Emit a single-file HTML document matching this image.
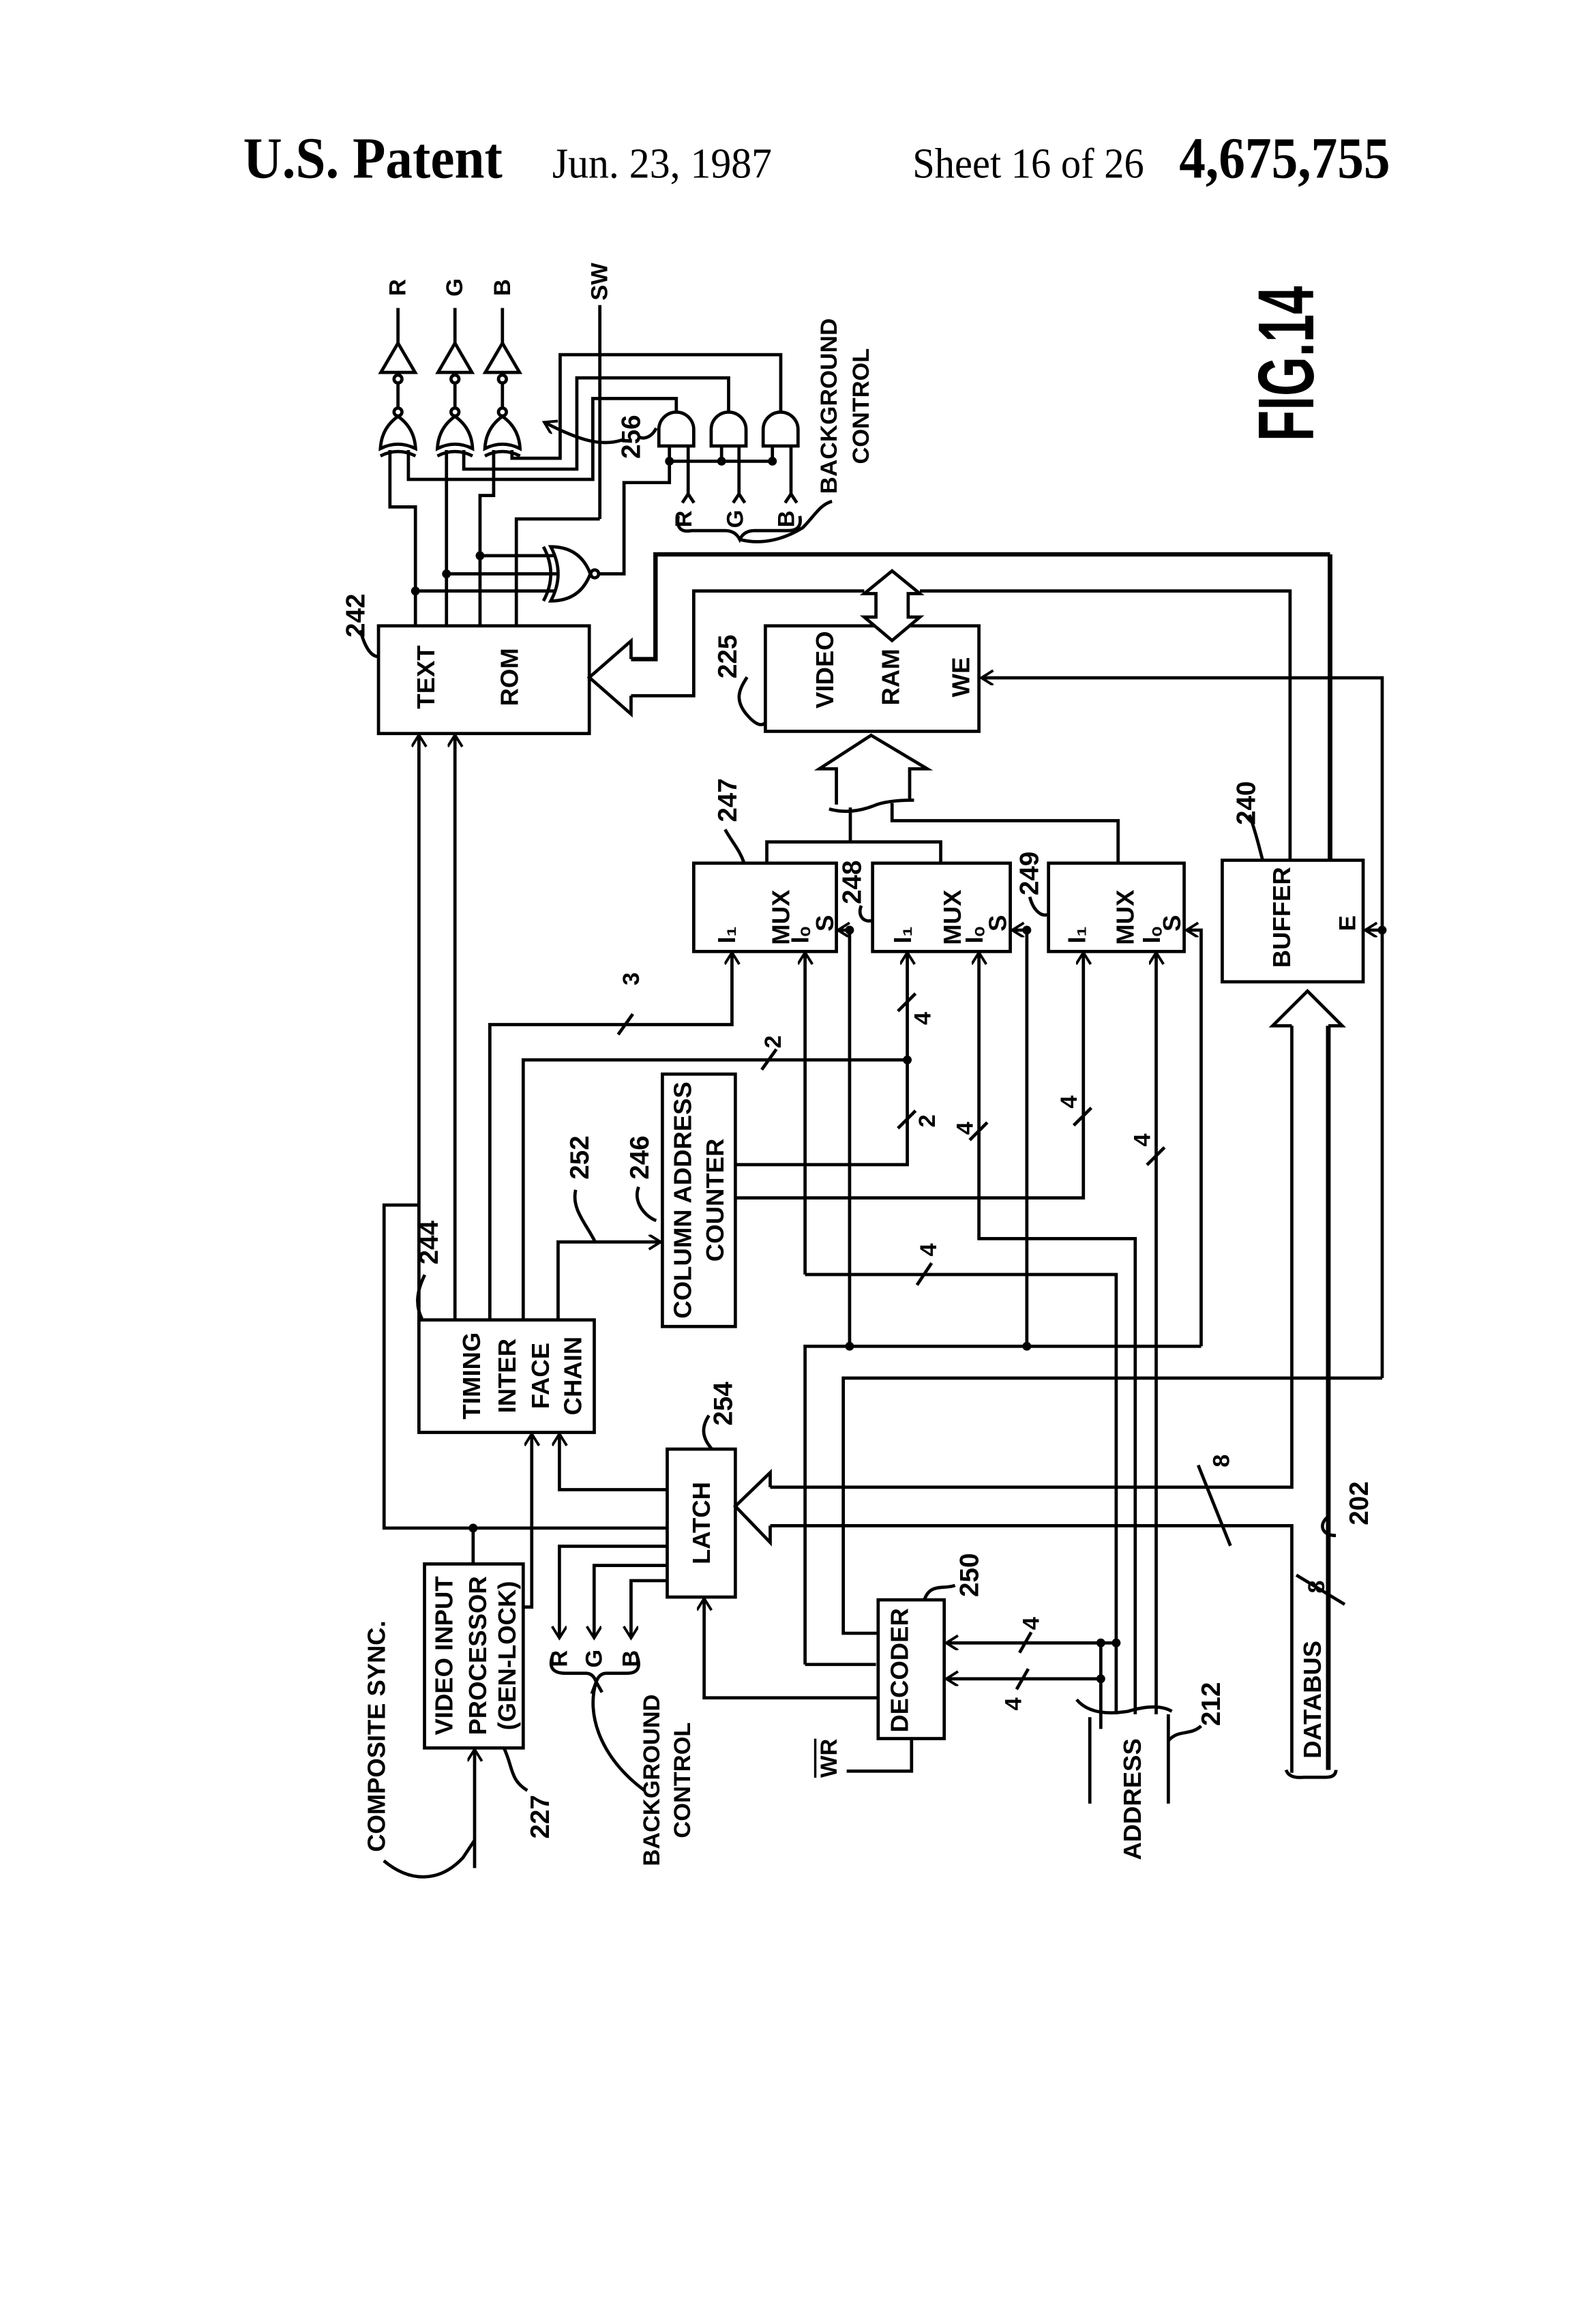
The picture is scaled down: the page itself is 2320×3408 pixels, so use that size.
<!DOCTYPE html>
<html><head><meta charset="utf-8"><style>
html,body{margin:0;padding:0;background:#fff;}
svg{display:block;}
text{font-family:"Liberation Sans",sans-serif;fill:#000;}
</style></head><body>
<svg width="2320" height="3408" viewBox="0 0 1080 1586" xmlns="http://www.w3.org/2000/svg">
<defs>
<marker id="a" markerUnits="userSpaceOnUse" markerWidth="12" markerHeight="12" refX="9" refY="5" orient="auto"><path d="M1,0 L9,5 L1,10" fill="none" stroke="#000" stroke-width="1.8"/></marker>
</defs>
<rect width="1080" height="1586" fill="#fff"/>
<!-- header -->
<text x="166" y="121" font-weight="bold" font-size="40" textLength="177" lengthAdjust="spacingAndGlyphs" style="font-family:'Liberation Serif',serif">U.S. Patent</text>
<text x="377" y="121" font-size="29" textLength="150" lengthAdjust="spacingAndGlyphs" style="font-family:'Liberation Serif',serif">Jun. 23, 1987</text>
<text x="623" y="121" font-size="29" textLength="158" lengthAdjust="spacingAndGlyphs" style="font-family:'Liberation Serif',serif">Sheet 16 of 26</text>
<text x="805" y="121" font-weight="bold" font-size="40" textLength="144" lengthAdjust="spacingAndGlyphs" style="font-family:'Liberation Serif',serif">4,675,755</text>

<g fill="none" stroke="#000" stroke-width="2.2" stroke-linejoin="miter">
<!-- output buffers -->
<g>
<line x1="271.7" y1="210" x2="271.7" y2="234"/><line x1="310.6" y1="210" x2="310.6" y2="234"/><line x1="343" y1="210" x2="343" y2="234"/>
<path d="M271.7,234 L260,254 L283.4,254 Z"/><path d="M310.6,234 L299,254 L322.2,254 Z"/><path d="M343,234 L331.3,254 L354.7,254 Z"/>
<circle cx="271.7" cy="258.5" r="2.7"/><circle cx="310.6" cy="258.5" r="2.7"/><circle cx="343" cy="258.5" r="2.7"/>
<line x1="271.7" y1="261" x2="271.7" y2="278"/><line x1="310.6" y1="261" x2="310.6" y2="278"/><line x1="343" y1="261" x2="343" y2="278"/>
<circle cx="271.7" cy="281" r="2.7"/><circle cx="310.6" cy="281" r="2.7"/><circle cx="343" cy="281" r="2.7"/>
</g>
<!-- OR gates -->
<path d="M259.7,306 Q271.7,300 283.7,306 Q283,292 271.7,284 Q260.4,292 259.7,306 Z"/>
<path d="M259.7,311 Q271.7,305 283.7,311"/>
<path d="M298.6,306 Q310.6,300 322.6,306 Q322,292 310.6,284 Q299.3,292 298.6,306 Z"/>
<path d="M298.6,311 Q310.6,305 322.6,311"/>
<path d="M331,306 Q343,300 355,306 Q354.3,292 343,284 Q331.7,292 331,306 Z"/>
<path d="M331,311 Q343,305 355,311"/>
<!-- AND gates -->
<path d="M449.8,304.2 L449.8,293 A11.9,11.9 0 0 1 473.6,293 L473.6,304.2 Z"/>
<path d="M485.5,304.2 L485.5,293 A11.9,11.9 0 0 1 509.3,293 L509.3,304.2 Z"/>
<path d="M521,304.2 L521,293 A11.9,11.9 0 0 1 544.8,293 L544.8,304.2 Z"/>
<!-- AND inputs -->
<polyline points="457,304 457,314.6 527.3,314.6 527.3,304"/>
<line x1="492.6" y1="304" x2="492.6" y2="314.6"/>
<line x1="469.8" y1="304" x2="469.8" y2="337"/><line x1="504.5" y1="304" x2="504.5" y2="337"/><line x1="540" y1="304" x2="540" y2="337"/>
<polyline points="465.8,343 469.8,337 473.8,343"/><polyline points="500.5,343 504.5,337 508.5,343"/><polyline points="536,343 540,337 544,343"/>
<!-- AND outputs to OR -->
<polyline points="461.7,282 461.7,271.8 404.7,271.8 404.7,327 278.8,327 278.8,307"/>
<polyline points="497.4,282 497.4,257.7 393.8,257.7 393.8,320 316.6,320 316.6,307"/>
<polyline points="533,282 533,241.9 382.4,241.9 382.4,312.6 349.5,312.6 349.5,307"/>
<!-- ROM outputs -->
<polyline points="266.2,307 266.2,345.8 283.6,345.8 283.6,427"/>
<line x1="304.8" y1="307" x2="304.8" y2="427"/>
<polyline points="337,307 337,338 327.7,338 327.7,427"/>
<polyline points="352.5,427 352.5,354 409.5,354"/>
<line x1="409.5" y1="208" x2="409.5" y2="354"/>
<!-- NOR -->
<line x1="283.6" y1="403.2" x2="379" y2="403.2"/><line x1="304.8" y1="391.5" x2="381" y2="391.5"/><line x1="327.7" y1="379.1" x2="379" y2="379.1"/>
<path d="M376,373 Q386,391.5 376,410 Q396,410 403,391.5 Q396,373 376,373 Z"/>
<path d="M371,373 Q381,391.5 371,410"/>
<circle cx="406" cy="391.5" r="2.7"/>
<polyline points="408.7,391.5 426,391.5 426,329.2 457,329.2 457,314.6"/>
<!-- 256 leaders -->
<path d="M425,300 C410,305 395,300 371.5,288" marker-end="url(#a)"/>
<path d="M436,298 C440,300 445,298 448,292" />
<!-- brace & bg control leader -->
<path d="M463,352 Q461,364 472,362 L495,362 Q502,362 505,368 Q508,362 515,362 L538,362 Q548,362 546,352"/>
<path d="M505,368 C520,372 535,368 548,360 C556,352 560,344 568,342"/>
<!-- TEXT ROM -->
<rect x="258.4" y="427" width="143.9" height="73.5"/>
<path d="M246,430 C250,445 255,448 258.4,448"/>
<!-- ROM bus arrow -->
<polyline points="430.8,449.7 430.8,437.3 402.3,462.2 430.8,487.2 430.8,474.7"/>
<polyline points="430.8,449.7 447.5,449.7 447.5,378.2 908,378.2" stroke-width="3"/>
<polyline points="430.8,474.7 473.6,474.7 473.6,403.2 590,403.2"/>
<polyline points="628,403.2 880.7,403.2 880.7,587"/>
<line x1="908" y1="378.2" x2="908" y2="587" stroke-width="3.2"/>
<!-- RAM -->
<rect x="522.5" y="427" width="145.8" height="72"/>
<polygon points="609,389.5 590,405 598,405 598,421 590,421 609,437 628,421 620,421 620,405 628,405" fill="#fff"/>
<path d="M510,462 C505,470 500,478 512,490 C516,494 520,496 522.5,493"/>
<polyline points="571,549 571,524.6 559.4,524.6 594.7,501.7 633,524.6 621,524.6 621,547"/>
<path d="M566,552 Q580,556 596,550 Q605,546 624,546"/>
<!-- WE -->
<polyline points="943.6,940.5 943.6,462.5 670,462.5" marker-end="url(#a)"/>
<!-- MUXes -->
<rect x="473.6" y="589" width="97.4" height="60.3"/>
<rect x="595.7" y="589" width="94" height="60.3"/>
<rect x="715.8" y="589" width="92.6" height="60.3"/>
<rect x="834.4" y="587" width="96.2" height="83"/>
<polyline points="523.5,589 523.5,574.5 642.2,574.5 642.2,589"/>
<line x1="580.5" y1="574.5" x2="580.5" y2="551"/>
<polyline points="763.3,589 763.3,560 609,560 609,548"/>
<!-- labels leaders -->
<path d="M495,566 C500,575 505,580 508,589"/>
<path d="M588,618 C585,625 590,630 595.7,628"/>
<path d="M703,612 C705,620 710,626 715.8,624"/>
<path d="M853,556 C858,570 860,580 862,587"/>
<!-- S lines -->
<polyline points="580,918.8 580,634.7 572,634.7" marker-end="url(#a)"/>
<polyline points="701,918.8 701,634.7 691,634.7" marker-end="url(#a)"/>
<polyline points="820,918.8 820,634.7 810,634.7" marker-end="url(#a)"/>
<polyline points="549.6,1136 549.6,918.8 820,918.8"/>
<polyline points="598,1136 549.6,1136"/>
<polyline points="943.6,634.7 932,634.7" marker-end="url(#a)"/>
<polyline points="943.6,940.5 575.7,940.5 575.7,1114.7 599.5,1114.7"/>
<!-- MUX inputs -->
<polyline points="334.4,900.8 334.4,699.2 499.7,699.2 499.7,650" marker-end="url(#a)"/>
<polyline points="357.2,900.8 357.2,723.3 619.4,723.3"/>
<polyline points="502,794.8 619.4,794.8 619.4,650" marker-end="url(#a)"/>
<polyline points="502,817.5 739.6,817.5 739.6,650" marker-end="url(#a)"/>
<polyline points="549.6,869.8 549.6,650" marker-end="url(#a)"/>
<polyline points="549.6,869.8 762,869.8 762,1170"/>
<polyline points="775,1170 775,845.3 668.3,845.3 668.3,650" marker-end="url(#a)"/>
<polyline points="789.3,1170 789.3,650" marker-end="url(#a)"/>
<!-- slashes -->
<line x1="422" y1="706" x2="432" y2="692"/>
<line x1="520" y1="730" x2="530" y2="716"/>
<line x1="613" y1="690" x2="625" y2="678"/>
<line x1="613" y1="770" x2="625" y2="758"/>
<line x1="662" y1="778" x2="674" y2="766"/>
<line x1="733" y1="768" x2="745" y2="756"/>
<line x1="783" y1="795" x2="795" y2="783"/>
<line x1="626" y1="877" x2="636" y2="862"/>
<line x1="818" y1="1000" x2="840" y2="1055"/>
<line x1="885" y1="1075" x2="918" y2="1095"/>
<line x1="696" y1="1128" x2="704" y2="1114"/>
<line x1="694" y1="1153" x2="702" y2="1139"/>
<!-- timing to ROM -->
<line x1="286" y1="900.8" x2="286" y2="501.5" marker-end="url(#a)"/>
<line x1="310.6" y1="900.8" x2="310.6" y2="501.5" marker-end="url(#a)"/>
<polyline points="286,822.4 262.2,822.4 262.2,1042.9 455.5,1042.9"/>
<line x1="323" y1="1042.9" x2="323" y2="1067.4"/>
<polyline points="381,900.8 381,847.6 451,847.6" marker-end="url(#a)"/>
<path d="M393,812 C390,825 400,835 406,847"/>
<path d="M436,810 C432,820 440,830 448,833"/>
<!-- col addr -->
<rect x="452.2" y="733" width="49.8" height="172.3"/>
<!-- timing -->
<rect x="286" y="900.8" width="119.7" height="76.8"/>
<path d="M290,870 C285,880 283,890 288,900"/>
<!-- latch -->
<rect x="455.5" y="989" width="46.5" height="101"/>
<path d="M484,966 C478,975 480,982 486,989"/>
<polyline points="455.5,1016.7 381.9,1016.7 381.9,978.6" marker-end="url(#a)"/>
<polyline points="357.2,1096.8 363,1096.8 363,978.6" marker-end="url(#a)"/>
<polyline points="455.5,1055.3 381.9,1055.3 381.9,1118" marker-end="url(#a)"/>
<polyline points="455.5,1068.4 405.6,1068.4 405.6,1118" marker-end="url(#a)"/>
<polyline points="455.5,1078.8 430.8,1078.8 430.8,1118" marker-end="url(#a)"/>
<path d="M378,1128 Q372,1142 386,1142 L400,1142 Q405,1142 407,1148 Q409,1142 414,1142 L428,1142 Q440,1142 434,1128"/>
<path d="M407,1148 C400,1170 410,1200 440,1222" />
<path d="M407,1148 L404,1156 M407,1148 L411,1155"/>
<!-- latch bus -->
<polyline points="525.8,1015 525.8,1005 502,1028 525.8,1052.7 525.8,1041.3"/>
<polyline points="525.8,1015 881.9,1015 881.9,700"/>
<polyline points="525.8,1041.3 881.9,1041.3 881.9,1210"/>
<polyline points="881.9,700 868.8,700 892.6,676.3 916.3,700 906.8,700"/>
<line x1="906.8" y1="700" x2="906.8" y2="1208" stroke-width="3.2"/>
<path d="M878,1208 Q880,1214 890,1213 L905,1213 Q912,1213 912,1208"/>
<path d="M906.8,1035 C900,1040 902,1048 912,1048"/>
<!-- VIP -->
<rect x="289.8" y="1067.4" width="67.4" height="125.6"/>
<polyline points="324,1275 324,1194" marker-end="url(#a)"/>
<path d="M262,1270 C280,1285 300,1285 316,1268 L324,1256"/>
<path d="M344,1193 C350,1205 348,1215 360,1222"/>
<!-- decoder -->
<rect x="599.5" y="1091.9" width="45.1" height="94.7"/>
<polyline points="751.5,1121.3 646,1121.3" marker-end="url(#a)"/>
<polyline points="751.5,1145.8 646,1145.8" marker-end="url(#a)"/>
<line x1="751.5" y1="1121.3" x2="751.5" y2="1180"/>
<line x1="751.5" y1="1121.3" x2="762" y2="1121.3"/>
<polyline points="599.5,1158.8 480.7,1158.8 480.7,1091" marker-end="url(#a)"/>
<polyline points="622.3,1186.6 622.3,1208.8 578,1208.8"/>
<path d="M631,1092 C635,1080 645,1085 652,1082"/>
<!-- address -->
<path d="M735,1160 Q745,1172 770,1168 Q790,1162 800,1168"/>
<line x1="744" y1="1172" x2="744" y2="1231"/>
<line x1="797.6" y1="1170" x2="797.6" y2="1231"/>
<path d="M797.6,1188 C805,1180 812,1185 820,1178"/>
</g>
<!-- dots -->
<g fill="#000">
<circle cx="457" cy="314.6" r="3"/><circle cx="492.6" cy="314.6" r="3"/><circle cx="527.3" cy="314.6" r="3"/>
<circle cx="283.6" cy="403.2" r="3"/><circle cx="304.8" cy="391.5" r="3"/><circle cx="327.7" cy="379.1" r="3"/>
<circle cx="580" cy="918.8" r="3"/><circle cx="701" cy="918.8" r="3"/><circle cx="619.4" cy="723.3" r="3"/>
<circle cx="580" cy="634.7" r="3"/><circle cx="701" cy="634.7" r="3"/><circle cx="943.6" cy="634.7" r="3"/>
<circle cx="323" cy="1042.9" r="3"/>
<circle cx="751.5" cy="1121.3" r="3"/><circle cx="751.5" cy="1145.8" r="3"/><circle cx="762" cy="1121.3" r="3"/>
</g>
<!-- rotated labels -->
<g font-size="16" text-anchor="middle" dominant-baseline="central" style="font-weight:600">
<text transform="translate(271.7,196) rotate(-90)">R</text>
<text transform="translate(310.6,196) rotate(-90)">G</text>
<text transform="translate(343,196) rotate(-90)">B</text>
<text transform="translate(409.5,192) rotate(-90)">SW</text>
<text transform="translate(878,248) rotate(-90)" font-size="54" font-weight="bold" textLength="106" lengthAdjust="spacingAndGlyphs">FIG.14</text>
<text transform="translate(566,277) rotate(-90)" textLength="120" lengthAdjust="spacingAndGlyphs">BACKGROUND</text>
<text transform="translate(588,277) rotate(-90)">CONTROL</text>
<text transform="translate(431,298) rotate(-90)" font-size="18">256</text>
<text transform="translate(467,354) rotate(-90)">R</text>
<text transform="translate(502,354) rotate(-90)">G</text>
<text transform="translate(537,354) rotate(-90)">B</text>
<text transform="translate(243,420) rotate(-90)" font-size="18">242</text>
<text transform="translate(290.7,462) rotate(-90)" font-size="17">TEXT</text>
<text transform="translate(347.7,462) rotate(-90)" font-size="17">ROM</text>
<text transform="translate(497,448) rotate(-90)" font-size="18">225</text>
<text transform="translate(563,457) rotate(-90)" font-size="17">VIDEO</text>
<text transform="translate(608,462) rotate(-90)" font-size="17">RAM</text>
<text transform="translate(656,462) rotate(-90)" font-size="17">WE</text>
<text transform="translate(497,546) rotate(-90)" font-size="18">247</text>
<text transform="translate(582,602) rotate(-90)" font-size="18">248</text>
<text transform="translate(703,596) rotate(-90)" font-size="18">249</text>
<text transform="translate(851,548) rotate(-90)" font-size="18">240</text>
<text transform="translate(533,626) rotate(-90)" font-size="17">MUX</text>
<text transform="translate(650,626) rotate(-90)" font-size="17">MUX</text>
<text transform="translate(768,626) rotate(-90)" font-size="17">MUX</text>
<text transform="translate(496,638) rotate(-90)" font-size="17">I₁</text>
<text transform="translate(546,638) rotate(-90)" font-size="17">Iₒ</text>
<text transform="translate(563,630) rotate(-90)" font-size="17">S</text>
<text transform="translate(616,638) rotate(-90)" font-size="17">I₁</text>
<text transform="translate(665,638) rotate(-90)" font-size="17">Iₒ</text>
<text transform="translate(681,630) rotate(-90)" font-size="17">S</text>
<text transform="translate(735,638) rotate(-90)" font-size="17">I₁</text>
<text transform="translate(786,638) rotate(-90)" font-size="17">Iₒ</text>
<text transform="translate(800,630) rotate(-90)" font-size="17">S</text>
<text transform="translate(875,626) rotate(-90)" font-size="17">BUFFER</text>
<text transform="translate(920,630) rotate(-90)" font-size="16">E</text>
<text transform="translate(466,819) rotate(-90)" font-size="17">COLUMN ADDRESS</text>
<text transform="translate(488,819) rotate(-90)" font-size="17">COUNTER</text>
<text transform="translate(396,790) rotate(-90)" font-size="18">252</text>
<text transform="translate(437,790) rotate(-90)" font-size="18">246</text>
<text transform="translate(293,848) rotate(-90)" font-size="18">244</text>
<text transform="translate(322,939) rotate(-90)" font-size="17">TIMING</text>
<text transform="translate(346,939) rotate(-90)" font-size="17">INTER</text>
<text transform="translate(369,939) rotate(-90)" font-size="17">FACE</text>
<text transform="translate(391,939) rotate(-90)" font-size="17">CHAIN</text>
<text transform="translate(478.7,1039.5) rotate(-90)" font-size="17">LATCH</text>
<text transform="translate(494,958) rotate(-90)" font-size="18">254</text>
<text transform="translate(303,1130) rotate(-90)" font-size="17">VIDEO INPUT</text>
<text transform="translate(326,1130) rotate(-90)" font-size="17">PROCESSOR</text>
<text transform="translate(346,1130) rotate(-90)" font-size="17">(GEN-LOCK)</text>
<text transform="translate(369,1240) rotate(-90)" font-size="18">227</text>
<text transform="translate(257,1185) rotate(-90)" font-size="17" textLength="158" lengthAdjust="spacing">COMPOSITE  SYNC.</text>
<text transform="translate(381.9,1132) rotate(-90)">R</text>
<text transform="translate(405.6,1132) rotate(-90)">G</text>
<text transform="translate(430.8,1132) rotate(-90)">B</text>
<text transform="translate(445,1215) rotate(-90)">BACKGROUND</text>
<text transform="translate(466,1215) rotate(-90)">CONTROL</text>
<text transform="translate(614,1140) rotate(-90)" font-size="17">DECODER</text>
<text transform="translate(662,1075) rotate(-90)" font-size="18">250</text>
<text transform="translate(566,1200) rotate(-90)" font-size="16" text-decoration="overline">WR</text>
<text transform="translate(773,1228) rotate(-90)" font-size="17">ADDRESS</text>
<text transform="translate(827,1163) rotate(-90)" font-size="18">212</text>
<text transform="translate(896,1160) rotate(-90)" font-size="17">DATABUS</text>
<text transform="translate(928,1026) rotate(-90)" font-size="18">202</text>
<text transform="translate(431,668) rotate(-90)" font-size="16">3</text>
<text transform="translate(528,711) rotate(-90)" font-size="16">2</text>
<text transform="translate(630,695) rotate(-90)" font-size="16">4</text>
<text transform="translate(633,765) rotate(-90)" font-size="16">2</text>
<text transform="translate(659,770) rotate(-90)" font-size="16">4</text>
<text transform="translate(730,752) rotate(-90)" font-size="16">4</text>
<text transform="translate(780,778) rotate(-90)" font-size="16">4</text>
<text transform="translate(634,853) rotate(-90)" font-size="16">4</text>
<text transform="translate(834,997) rotate(-90)" font-size="16">8</text>
<text transform="translate(899,1083) rotate(-90)" font-size="16">8</text>
<text transform="translate(704,1108) rotate(-90)" font-size="16">4</text>
<text transform="translate(692,1163) rotate(-90)" font-size="16">4</text>
</g>
</svg>
</body></html>
